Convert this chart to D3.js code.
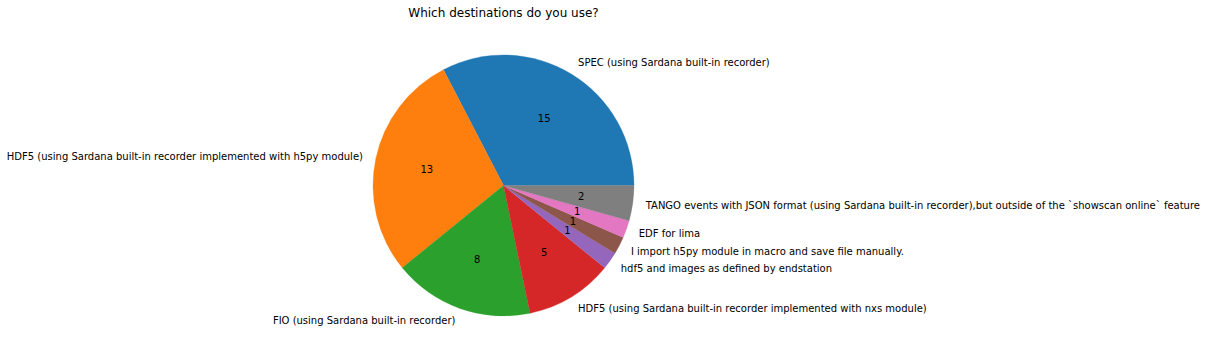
<!DOCTYPE html>
<html><head><meta charset="utf-8">
<script src="https://cdn.jsdelivr.net/npm/d3@7"></script>
<style>html,body{margin:0;padding:0;background:#fff;}svg{display:block;font-family:"DejaVu Sans",sans-serif;}</style>
</head><body>
<svg id="chart" width="1206" height="356"></svg>
<script>
const title = "Which destinations do you use?";
const categories = [
  "SPEC (using Sardana built-in recorder)",
  "HDF5 (using Sardana built-in recorder implemented with h5py module)",
  "FIO (using Sardana built-in recorder)",
  "HDF5 (using Sardana built-in recorder implemented with nxs module)",
  "hdf5 and images as defined by endstation",
  "I import h5py module in macro and save file manually.",
  "EDF for lima",
  "TANGO events with JSON format (using Sardana built-in recorder),but outside of the `showscan online` feature"
];
const values = [15, 13, 8, 5, 1, 1, 1, 2];
const colors = ["#1f77b4","#ff7f0e","#2ca02c","#d62728","#9467bd","#8c564b","#e377c2","#7f7f7f"];

const svg = d3.select("#chart");
const cx = 503.5, cy = 185.5, R = 130.5;
svg.append("text").attr("x", 503.5).attr("y", 13).attr("text-anchor","middle")
  .attr("dominant-baseline","central").attr("font-size", 12).attr("fill","#000").text(title);

const data = categories.map((c,i)=>({label:c, value:values[i], color:colors[i]}));
const pie = d3.pie().value(d=>d.value).sort(null)
  .startAngle(Math.PI/2).endAngle(Math.PI/2 - 2*Math.PI);
const arcs = pie(data);
const g = svg.append("g").attr("transform", `translate(${cx},${cy})`);
const arc = d3.arc().innerRadius(0).outerRadius(R);
const labelArc = d3.arc().innerRadius(R*1.1).outerRadius(R*1.1);
const valArc = d3.arc().innerRadius(R*0.6).outerRadius(R*0.6);

g.selectAll("path.w").data(arcs).join("path").attr("class","w")
  .attr("d", arc).attr("fill", d=>d.data.color).attr("stroke", d=>d.data.color).attr("stroke-width",0.3);

g.selectAll("text.lab").data(arcs).join("text").attr("class","lab")
  .attr("x", d=>labelArc.centroid(d)[0]).attr("y", d=>labelArc.centroid(d)[1])
  .attr("text-anchor", d=>labelArc.centroid(d)[0] > 0 ? "start" : "end")
  .attr("dominant-baseline","central").attr("font-size",10).attr("fill","#000")
  .text(d=>d.data.label);

g.selectAll("text.val").data(arcs).join("text").attr("class","val")
  .attr("x", d=>valArc.centroid(d)[0]).attr("y", d=>valArc.centroid(d)[1])
  .attr("text-anchor","middle").attr("dominant-baseline","central")
  .attr("font-size",10).attr("fill","#000").text(d=>d.data.value);
</script>
</body></html>
